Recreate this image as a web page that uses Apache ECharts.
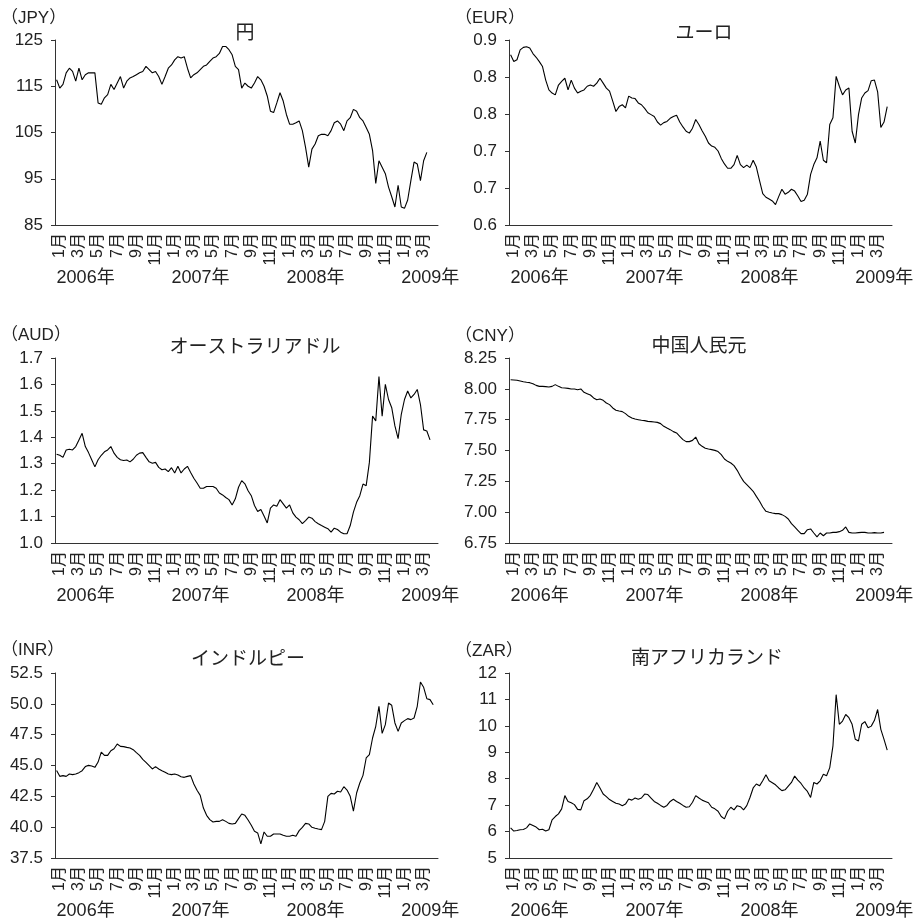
<!DOCTYPE html>
<html>
<head>
<meta charset="utf-8">
<title>為替レートの推移</title>
<script src="https://cdn.jsdelivr.net/npm/echarts/dist/echarts.min.js"></script>
<style>
html, body { margin: 0; padding: 0; background: #fff; }
#main { width: 924px; height: 922px; }
</style>
</head>
<body>
<div id="main"></div>
<script>
//対ドル為替レート 2006年1月～2009年3月（1か月3点）
var years = [2006, 2007, 2008, 2009];
var panelTitles = ['円', 'ユーロ', 'オーストラリアドル', '中国人民元', 'インドルピー', '南アフリカランド'];
var unitNames = ['JPY', 'EUR', 'AUD', 'CNY', 'INR', 'ZAR'];

var jpy = [116.4, 114.6, 115.4, 117.9, 118.9, 118.2, 116.1, 118.9, 116.4, 117.5,
	117.9, 117.9, 117.9, 111.4, 111.1, 112.5, 113.2, 115.4, 114.3, 115.7,
	117.1, 114.6, 116.1, 116.8, 117.1, 117.5, 117.9, 118.2, 119.3, 118.6,
	117.9, 118.2, 117.1, 115.4, 117.1, 118.9, 119.6, 120.7, 121.4, 121.1,
	121.4, 118.9, 116.8, 117.5, 117.9, 118.6, 119.3, 119.6, 120.4, 121.1,
	121.4, 122.1, 123.6, 123.6, 122.9, 121.8, 119.3, 118.6, 114.6, 115.7,
	115.0, 114.6, 115.7, 117.1, 116.4, 115.0, 112.9, 109.6, 109.3, 111.4,
	113.6, 111.8, 108.9, 106.8, 106.8, 107.1, 107.5, 105.4, 101.8, 97.5,
	101.4, 102.5, 104.3, 104.6, 104.6, 104.3, 105.4, 107.1, 107.5, 106.8,
	105.4, 107.5, 108.2, 110.0, 109.6, 108.2, 107.5, 106.1, 104.6, 101.1,
	94.0, 98.9, 97.5, 96.1, 93.2, 91.1, 88.9, 93.6, 88.9, 88.6,
	90.4, 94.6, 98.6, 98.2, 94.6, 98.9, 100.7];

var eur = [0.876, 0.865, 0.868, 0.884, 0.888, 0.889, 0.887, 0.878, 0.872, 0.865,
	0.857, 0.835, 0.819, 0.814, 0.811, 0.827, 0.833, 0.838, 0.819, 0.835,
	0.822, 0.814, 0.817, 0.819, 0.825, 0.827, 0.825, 0.830, 0.838, 0.830,
	0.822, 0.817, 0.801, 0.784, 0.792, 0.795, 0.790, 0.809, 0.806, 0.805,
	0.798, 0.795, 0.789, 0.782, 0.779, 0.776, 0.767, 0.762, 0.766, 0.768,
	0.773, 0.776, 0.778, 0.767, 0.759, 0.752, 0.749, 0.757, 0.771, 0.763,
	0.753, 0.744, 0.733, 0.728, 0.726, 0.720, 0.708, 0.699, 0.692, 0.692,
	0.698, 0.713, 0.698, 0.693, 0.697, 0.693, 0.705, 0.694, 0.672, 0.651,
	0.645, 0.642, 0.639, 0.633, 0.646, 0.658, 0.650, 0.653, 0.658, 0.655,
	0.647, 0.638, 0.640, 0.650, 0.682, 0.698, 0.709, 0.736, 0.705, 0.701,
	0.763, 0.774, 0.841, 0.825, 0.811, 0.819, 0.822, 0.752, 0.733, 0.779,
	0.806, 0.814, 0.818, 0.834, 0.835, 0.816, 0.758, 0.767, 0.792];

var aud = [1.336, 1.332, 1.324, 1.352, 1.355, 1.352, 1.365, 1.390, 1.415, 1.365,
	1.342, 1.315, 1.288, 1.315, 1.332, 1.345, 1.352, 1.365, 1.340, 1.324,
	1.315, 1.312, 1.314, 1.307, 1.317, 1.332, 1.340, 1.342, 1.324, 1.307,
	1.302, 1.305, 1.286, 1.277, 1.280, 1.270, 1.285, 1.265, 1.290, 1.265,
	1.280, 1.290, 1.267, 1.245, 1.227, 1.207, 1.207, 1.214, 1.214, 1.214,
	1.207, 1.189, 1.182, 1.172, 1.164, 1.144, 1.167, 1.211, 1.236, 1.224,
	1.198, 1.179, 1.142, 1.119, 1.127, 1.102, 1.076, 1.132, 1.144, 1.139,
	1.164, 1.148, 1.132, 1.144, 1.114, 1.098, 1.088, 1.073, 1.085, 1.098,
	1.094, 1.081, 1.073, 1.066, 1.060, 1.054, 1.041, 1.056, 1.051, 1.041,
	1.035, 1.035, 1.066, 1.117, 1.154, 1.179, 1.223, 1.217, 1.305, 1.480,
	1.462, 1.630, 1.480, 1.600, 1.543, 1.512, 1.443, 1.395, 1.487, 1.543,
	1.575, 1.549, 1.562, 1.581, 1.524, 1.428, 1.424, 1.390];

var cny = [8.074, 8.072, 8.069, 8.064, 8.058, 8.053, 8.050, 8.042, 8.028, 8.020,
	8.020, 8.018, 8.015, 8.020, 8.034, 8.020, 8.009, 8.007, 8.004, 7.999,
	7.999, 7.993, 7.999, 7.972, 7.961, 7.950, 7.926, 7.912, 7.918, 7.907,
	7.885, 7.872, 7.845, 7.826, 7.820, 7.815, 7.799, 7.777, 7.764, 7.755,
	7.750, 7.745, 7.742, 7.736, 7.734, 7.731, 7.728, 7.718, 7.696, 7.682,
	7.669, 7.653, 7.642, 7.615, 7.588, 7.572, 7.572, 7.582, 7.609, 7.555,
	7.534, 7.518, 7.512, 7.507, 7.501, 7.491, 7.466, 7.431, 7.412, 7.399,
	7.377, 7.339, 7.291, 7.250, 7.223, 7.196, 7.169, 7.128, 7.088, 7.042,
	7.007, 6.999, 6.993, 6.988, 6.988, 6.980, 6.966, 6.945, 6.907, 6.880,
	6.853, 6.826, 6.826, 6.858, 6.864, 6.831, 6.799, 6.831, 6.809, 6.831,
	6.831, 6.836, 6.836, 6.842, 6.853, 6.880, 6.836, 6.831, 6.831, 6.834,
	6.836, 6.836, 6.831, 6.831, 6.834, 6.831, 6.831, 6.836];

var inr = [44.60, 44.12, 44.18, 44.12, 44.31, 44.26, 44.31, 44.42, 44.58, 44.91,
	45.01, 44.96, 44.85, 45.28, 46.09, 45.82, 45.82, 46.20, 46.36, 46.74,
	46.55, 46.53, 46.47, 46.42, 46.28, 46.04, 45.82, 45.50, 45.26, 44.99,
	44.72, 44.91, 44.72, 44.58, 44.45, 44.31, 44.26, 44.31, 44.23, 44.09,
	44.04, 44.12, 44.18, 43.50, 42.99, 42.58, 41.55, 40.96, 40.61, 40.42,
	40.47, 40.47, 40.61, 40.47, 40.31, 40.26, 40.31, 40.69, 41.07, 40.96,
	40.58, 40.15, 39.66, 39.53, 38.64, 39.61, 39.26, 39.26, 39.45, 39.45,
	39.45, 39.34, 39.26, 39.26, 39.34, 39.26, 39.72, 39.99, 40.31, 40.26,
	39.99, 39.91, 39.85, 39.80, 40.47, 42.50, 42.74, 42.69, 42.91, 42.85,
	43.28, 43.01, 42.50, 41.30, 42.77, 43.58, 44.20, 45.61, 45.88, 47.23,
	48.18, 49.80, 47.60, 48.31, 50.07, 49.88, 48.45, 47.77, 48.45, 48.64,
	48.80, 48.72, 48.85, 49.80, 51.77, 51.34, 50.42, 50.34, 49.93];

var zar = [6.14, 6.02, 6.04, 6.07, 6.08, 6.14, 6.29, 6.23, 6.17, 6.07,
	6.09, 6.02, 6.07, 6.44, 6.57, 6.67, 6.86, 7.36, 7.14, 7.09,
	7.02, 6.84, 6.82, 7.17, 7.24, 7.37, 7.60, 7.86, 7.65, 7.42,
	7.32, 7.21, 7.14, 7.07, 7.04, 6.98, 7.04, 7.23, 7.19, 7.27,
	7.22, 7.27, 7.42, 7.40, 7.27, 7.14, 7.07, 6.99, 6.92, 6.99,
	7.14, 7.22, 7.14, 7.07, 6.99, 6.92, 6.94, 7.11, 7.36, 7.27,
	7.19, 7.14, 7.09, 6.92, 6.86, 6.77, 6.57, 6.48, 6.77, 6.92,
	6.82, 6.98, 6.94, 6.82, 6.98, 7.29, 7.65, 7.80, 7.73, 7.92,
	8.15, 7.92, 7.85, 7.77, 7.65, 7.55, 7.58, 7.72, 7.86, 8.10,
	7.95, 7.82, 7.65, 7.52, 7.29, 7.86, 7.80, 7.92, 8.17, 8.11,
	8.42, 9.24, 11.18, 10.06, 10.18, 10.43, 10.31, 10.06, 9.49, 9.43,
	10.06, 10.16, 9.93, 9.99, 10.21, 10.62, 9.87, 9.49, 9.08];

var seriesData = [jpy, eur, aud, cny, inr, zar];

//縦軸の範囲と目盛
var yMin = [85, 0.6, 1.0, 6.75, 37.5, 5];
var yMax = [125, 0.9, 1.7, 8.25, 52.5, 12];
var yStep = [10, 0.06, 0.1, 0.25, 2.5, 1];
var yDigits = [0, 1, 1, 2, 1, 0];

//横軸カテゴリ（年-月-旬）
var categories = [];
for(var y = 0; y < years.length; y++) {
	for(var m = 1; m <= 12; m++) {
		if(years[y] == 2009 && m > 4) break;
		for(var t = 0; t < 3; t++) {
			categories.push(years[y] + '-' + m + '-' + t);
		}
	}
}

//レイアウト
var gridLeft = [55, 509];
var gridTop = [40, 358, 673];
var gridW = 383;
var gridH = 185;
var titleX = [245, 704, 255, 699, 248, 707];
var titleY = [32, 32, 346, 345, 658, 657];
var unitX = [1, 455];
var unitY = [18, 18, 335, 336, 650, 651];

var latinFont = "'Liberation Sans', 'Noto Sans CJK JP', sans-serif";
var cjkFont = "'Noto Sans CJK JP', sans-serif";
var textColor = '#222';

var option = {
	animation: false,
	backgroundColor: '#fff',
	grid: [],
	xAxis: [],
	yAxis: [],
	series: [],
	graphic: []
};

for(var p = 0; p < 6; p++) {
	var col = p % 2;
	var row = Math.floor(p / 2);
	option.grid.push({
		left: gridLeft[col],
		top: gridTop[row],
		width: gridW,
		height: gridH
	});
	//月の目盛
	option.xAxis.push({
		type: 'category',
		gridIndex: p,
		position: 'bottom',
		data: categories,
		boundaryGap: true,
		axisLine: { lineStyle: { color: '#333', width: 1 } },
		axisTick: { show: false },
		splitLine: { show: false },
		axisLabel: {
			interval: function(i) { return i % 6 === 1; },
			rotate: 90,
			margin: 8,
			fontSize: 16,
			color: textColor,
			fontFamily: latinFont,
			formatter: function(v) { return v.split('-')[1] + '月'; }
		}
	});
	//年のラベル
	option.xAxis.push({
		type: 'category',
		gridIndex: p,
		position: 'bottom',
		data: categories,
		boundaryGap: true,
		axisLine: { show: false },
		axisTick: { show: false },
		splitLine: { show: false },
		axisLabel: {
			interval: function(i) { return i % 36 === 0; },
			margin: 44,
			align: 'left',
			fontSize: 18,
			color: textColor,
			fontFamily: latinFont,
			formatter: function(v) { return v.split('-')[0] + '年'; }
		}
	});
	option.yAxis.push({
		type: 'value',
		gridIndex: p,
		min: yMin[p],
		max: yMax[p],
		interval: yStep[p],
		axisLine: { show: true, lineStyle: { color: '#333', width: 1 } },
		axisTick: { show: true, length: 4, lineStyle: { color: '#333' } },
		splitLine: { show: false },
		axisLabel: {
			margin: 12,
			fontSize: 17,
			color: textColor,
			fontFamily: latinFont,
			formatter: (function(d) {
				return function(v) { return v.toFixed(d); };
			})(yDigits[p])
		}
	});
	option.series.push({
		name: unitNames[p],
		type: 'line',
		xAxisIndex: p * 2,
		yAxisIndex: p,
		data: seriesData[p],
		showSymbol: false,
		silent: true,
		lineStyle: { color: '#000', width: 1.1 }
	});
	//グラフタイトル
	option.graphic.push({
		type: 'text',
		x: titleX[p],
		y: titleY[p],
		style: {
			text: panelTitles[p],
			font: '19px ' + cjkFont,
			fill: textColor,
			align: 'center',
			verticalAlign: 'middle'
		}
	});
	//単位
	option.graphic.push({
		type: 'text',
		x: unitX[col],
		y: unitY[p],
		style: {
			text: '（' + unitNames[p] + '）',
			font: '17px ' + latinFont,
			fill: textColor,
			align: 'left',
			verticalAlign: 'middle'
		}
	});
}

var chart = echarts.init(document.getElementById('main'));
chart.setOption(option);
</script>
</body>
</html>
